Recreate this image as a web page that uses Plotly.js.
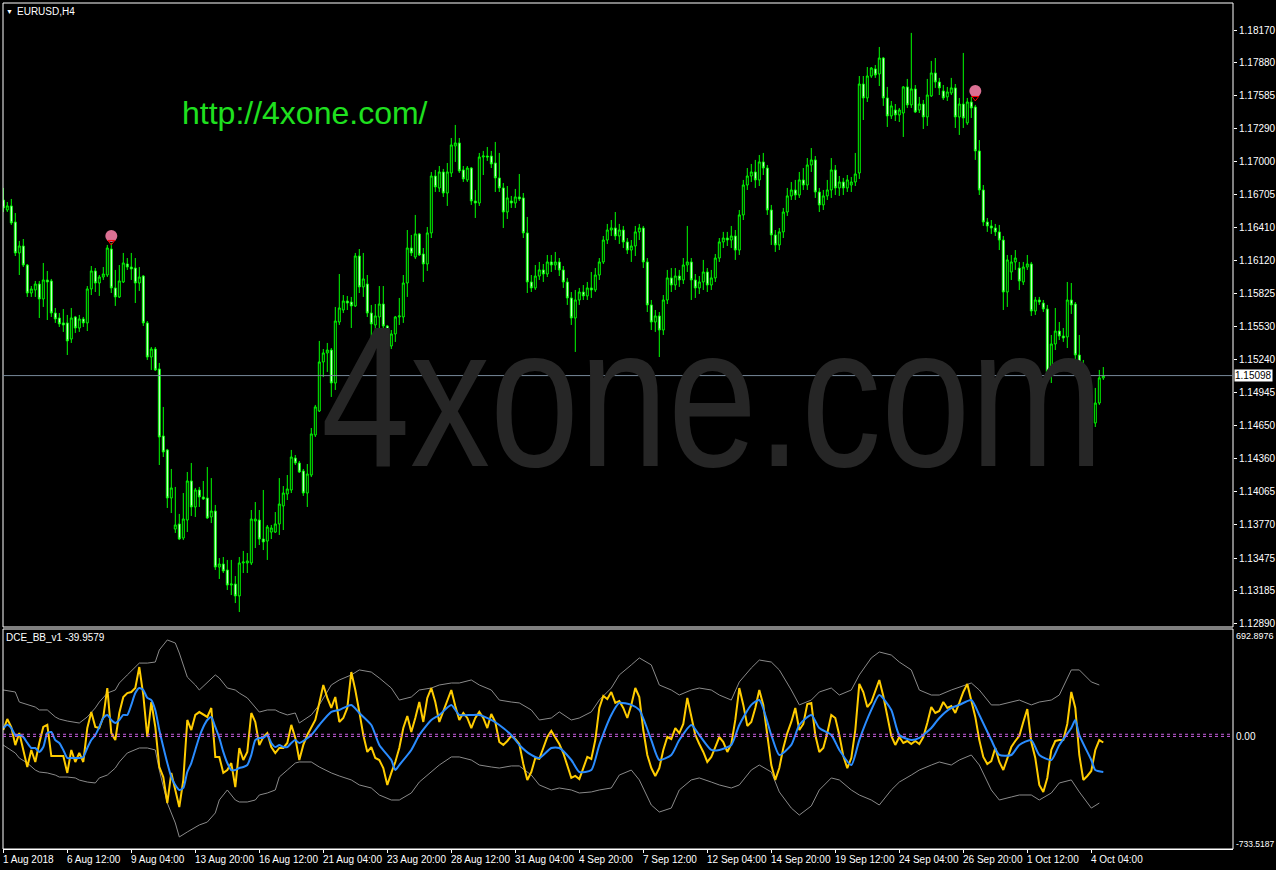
<!DOCTYPE html>
<html><head><meta charset="utf-8">
<script src="https://cdn.plot.ly/plotly-3.0.1.min.js"></script>
<style>html,body{margin:0;padding:0;background:#000;}#chart{width:1276px;height:870px;}</style>
</head><body><div id="chart"></div>
<script>
const symbolTitle = "EURUSD,H4";
const indicatorTitle = "DCE_BB_v1 -39.9579";
const watermarkText = "4xone.com";
const urlText = "http://4xone.com/";
const dateTickBars = [0,16,32,48,64,80,96,112,128,144,160,176,192,208,224,240,256,272];
const dateTickLabels = ["1 Aug 2018","6 Aug 12:00","9 Aug 04:00","13 Aug 20:00","16 Aug 12:00","21 Aug 04:00","23 Aug 20:00","28 Aug 12:00","31 Aug 04:00","4 Sep 20:00","7 Sep 12:00","12 Sep 04:00","14 Sep 20:00","19 Sep 12:00","24 Sep 04:00","26 Sep 20:00","1 Oct 12:00","4 Oct 04:00"];
const priceTicks = [1.18170,1.17880,1.17585,1.17290,1.17000,1.16705,1.16410,1.16120,1.15825,1.15530,1.15240,1.14945,1.14650,1.14360,1.14065,1.13770,1.13475,1.13185,1.12890];
const indicatorMax = 692.8976, indicatorMin = -733.5187;
const lastPrice = 1.15098;

const opens = [1.16659,1.16570,1.16606,1.16463,1.16188,1.16250,1.16081,1.15832,1.15859,1.15912,1.15779,1.15948,1.15939,1.15654,1.15610,1.15566,1.15566,1.15423,1.15619,1.15521,1.15601,1.15566,1.15868,1.16028,1.15921,1.15974,1.15992,1.16223,1.15877,1.15797,1.15930,1.16090,1.16063,1.16054,1.15921,1.15983,1.15566,1.15263,1.15334,1.15157,1.14561,1.14437,1.14010,1.13734,1.13779,1.13654,1.13814,1.14161,1.13930,1.14081,1.14019,1.14010,1.13841,1.13894,1.13396,1.13423,1.13370,1.13236,1.13245,1.13139,1.13432,1.13432,1.13432,1.13805,1.13814,1.13645,1.13627,1.13707,1.13707,1.13779,1.13939,1.14045,1.14081,1.14365,1.14321,1.14250,1.14054,1.14214,1.14570,1.14783,1.15219,1.15299,1.15325,1.15032,1.15574,1.15681,1.15761,1.15752,1.15717,1.16161,1.15886,1.15912,1.15654,1.15548,1.15619,1.15734,1.15539,1.15361,1.15468,1.15619,1.15619,1.15921,1.16232,1.16152,1.16357,1.16179,1.16090,1.16366,1.16872,1.16766,1.16908,1.16721,1.16899,1.17139,1.17166,1.16926,1.16837,1.16943,1.16650,1.16632,1.17041,1.17050,1.17050,1.16988,1.16855,1.16766,1.16552,1.16650,1.16632,1.16686,1.16677,1.16366,
1.15930,1.15877,1.15983,1.16037,1.16001,1.16108,1.16081,1.16108,1.16037,1.15930,1.15788,1.15610,1.15770,1.15841,1.15806,1.15877,1.15859,1.15992,1.16108,1.16303,1.16392,1.16410,1.16339,1.16392,1.16286,1.16214,1.16250,1.16375,1.16410,1.16108,1.15726,1.15574,1.15628,1.15503,1.15770,1.15966,1.15903,1.15983,1.15948,1.16081,1.16108,1.15948,1.15877,1.15930,1.16019,1.15903,1.15966,1.16143,1.16286,1.16321,1.16303,1.16339,1.16214,1.16526,1.16792,1.16872,1.16908,1.16837,1.16997,1.16943,1.16570,1.16348,1.16259,1.16375,1.16552,1.16695,1.16748,1.16703,1.16837,1.16792,1.16970,1.17015,1.16730,1.16615,1.16695,1.16748,1.16926,1.16766,1.16819,1.16766,1.16792,1.16819,1.16899,1.17690,1.17566,1.17761,1.17824,1.17779,1.17921,1.17566,1.17406,1.17459,1.17415,1.17432,1.17664,1.17504,1.17646,1.17459,1.17512,1.17397,1.17584,1.17788,1.17708,1.17628,1.17575,1.17610,1.17655,1.17397,1.17512,1.17344,1.17530,1.17486,1.17095,1.16748,1.16463,1.16428,1.16410,1.16375,1.16303,1.15841,1.16019,1.16108,1.16054,1.15930,1.16063,1.16090,1.15672,1.15770,1.15743,1.15690,1.15121,1.15379,1.15494,1.15450,1.15441,1.15770,1.15734,1.15281,1.15130,1.14765,1.14757,1.14677,1.14854,1.15077];
const highs = [1.16766,1.16641,1.16668,1.16543,1.16295,1.16312,1.16090,1.15894,1.15939,1.15939,1.16099,1.16028,1.15957,1.15699,1.15654,1.15690,1.15637,1.15699,1.15628,1.15637,1.15619,1.15894,1.16072,1.16054,1.15992,1.16063,1.16259,1.16277,1.16037,1.16081,1.16188,1.16143,1.16188,1.16143,1.16063,1.15992,1.15583,1.15352,1.15352,1.15210,1.14819,1.14446,1.14268,1.14108,1.13868,1.14054,1.14241,1.14321,1.14099,1.14108,1.14161,1.14285,1.14187,1.13948,1.13476,1.13485,1.13459,1.13459,1.13316,1.13485,1.13539,1.13521,1.13903,1.13974,1.13903,1.14081,1.13770,1.13770,1.13885,1.14187,1.14116,1.14214,1.14437,1.14392,1.14339,1.14268,1.14312,1.14632,1.14837,1.15406,1.15334,1.15388,1.15343,1.15708,1.16001,1.15814,1.15806,1.15797,1.16188,1.16223,1.16188,1.15992,1.15726,1.15734,1.15894,1.15894,1.15548,1.15503,1.15628,1.15788,1.15992,1.16392,1.16348,1.16526,1.16366,1.16232,1.16419,1.16908,1.16926,1.16961,1.16935,1.16988,1.17210,1.17326,1.17210,1.16961,1.16961,1.16952,1.16748,1.17077,1.17095,1.17130,1.17095,1.17175,1.17077,1.16810,1.16783,1.16695,1.16757,1.16890,1.16721,1.16508,
1.15992,1.16081,1.16108,1.16090,1.16170,1.16170,1.16197,1.16143,1.16072,1.15966,1.15841,1.15859,1.15877,1.15903,1.15930,1.16019,1.16054,1.16143,1.16339,1.16446,1.16481,1.16552,1.16446,1.16428,1.16321,1.16303,1.16428,1.16446,1.16428,1.16143,1.15770,1.15681,1.15663,1.15814,1.16037,1.16054,1.16054,1.16037,1.16143,1.16428,1.16143,1.16001,1.15983,1.16126,1.16054,1.16037,1.16179,1.16321,1.16375,1.16375,1.16428,1.16392,1.16570,1.16837,1.16943,1.16979,1.17015,1.17059,1.17077,1.16970,1.16615,1.16392,1.16410,1.16588,1.16766,1.16819,1.16837,1.16908,1.16943,1.17032,1.17121,1.17050,1.16766,1.16748,1.16837,1.17032,1.16970,1.16872,1.16855,1.16881,1.16863,1.17077,1.17761,1.17761,1.17841,1.17841,1.17859,1.18019,1.17930,1.17664,1.17539,1.17512,1.17477,1.17672,1.17735,1.18144,1.17681,1.17575,1.17548,1.17735,1.17895,1.17921,1.17744,1.17681,1.17664,1.17744,1.17690,1.17566,1.17966,1.17566,1.17575,1.17504,1.17192,1.16792,1.16499,1.16481,1.16446,1.16437,1.16339,1.16170,1.16170,1.16214,1.16108,1.16108,1.16170,1.16108,1.15797,1.15797,1.15770,1.15726,1.15459,1.15699,1.15574,1.15521,1.15930,1.15921,1.15752,1.15459,1.15237,1.14925,1.14988,1.14988,1.15148,1.15174];
const lows = [1.16552,1.16552,1.16437,1.16161,1.15992,1.16063,1.15797,1.15797,1.15797,1.15610,1.15708,1.15592,1.15619,1.15566,1.15530,1.15486,1.15281,1.15388,1.15477,1.15486,1.15530,1.15494,1.15814,1.15841,1.15806,1.15948,1.15974,1.15832,1.15717,1.15788,1.15921,1.16037,1.15948,1.15743,1.15850,1.15539,1.15237,1.15148,1.15139,1.14303,1.14374,1.13921,1.13876,1.13699,1.13636,1.13636,1.13707,1.13850,1.13841,1.13930,1.13992,1.13823,1.13787,1.13370,1.13290,1.13343,1.13192,1.13147,1.13076,1.12996,1.13343,1.13343,1.13414,1.13565,1.13592,1.13547,1.13459,1.13645,1.13699,1.13681,1.13725,1.13992,1.14054,1.14303,1.14232,1.14028,1.13930,1.14196,1.14552,1.14774,1.15085,1.15130,1.14908,1.14970,1.15548,1.15654,1.15681,1.15521,1.15708,1.15832,1.15797,1.15619,1.15406,1.15477,1.15486,1.15486,1.15281,1.15334,1.15397,1.15548,1.15566,1.15797,1.16161,1.16134,1.16161,1.15930,1.16028,1.16321,1.16730,1.16730,1.16686,1.16606,1.16863,1.16997,1.16899,1.16819,1.16819,1.16615,1.16499,1.16606,1.16881,1.17006,1.16943,1.16730,1.16730,1.16410,1.16490,1.16588,1.16588,1.16650,1.16321,1.15832,
1.15841,1.15859,1.15948,1.15930,1.15974,1.16019,1.16037,1.15983,1.15877,1.15726,1.15548,1.15308,1.15726,1.15770,1.15770,1.15788,1.15841,1.15948,1.16090,1.16268,1.16339,1.16303,1.16268,1.16232,1.16179,1.16108,1.16161,1.16303,1.16054,1.15663,1.15503,1.15486,1.15263,1.15459,1.15734,1.15841,1.15859,1.15886,1.15912,1.16019,1.15770,1.15788,1.15823,1.15859,1.15841,1.15859,1.15930,1.16108,1.16232,1.16250,1.16232,1.16126,1.16170,1.16481,1.16748,1.16819,1.16766,1.16783,1.16881,1.16526,1.16259,1.16197,1.16214,1.16321,1.16517,1.16659,1.16659,1.16677,1.16748,1.16748,1.16908,1.16677,1.16552,1.16570,1.16659,1.16677,1.16703,1.16695,1.16703,1.16730,1.16730,1.16783,1.16846,1.17370,1.17530,1.17744,1.17744,1.17672,1.17495,1.17308,1.17379,1.17361,1.17352,1.17219,1.17477,1.17477,1.17432,1.17432,1.17290,1.17317,1.17575,1.17655,1.17592,1.17548,1.17539,1.17592,1.17299,1.17237,1.17299,1.17326,1.17388,1.17015,1.16703,1.16428,1.16375,1.16357,1.16339,1.16214,1.15681,1.15708,1.15948,1.16037,1.15859,1.15903,1.16037,1.15628,1.15637,1.15726,1.15663,1.15059,1.15032,1.15325,1.15414,1.15397,1.15343,1.15646,1.15237,1.15077,1.14632,1.14659,1.14614,1.14641,1.14837,1.15059];
const closes = [1.16588,1.16606,1.16455,1.16188,1.16250,1.16081,1.15832,1.15868,1.15912,1.15779,1.15948,1.15930,1.15654,1.15601,1.15557,1.15548,1.15406,1.15610,1.15521,1.15601,1.15566,1.15868,1.16028,1.15921,1.15974,1.16001,1.16232,1.15877,1.15797,1.15939,1.16099,1.16063,1.16046,1.15921,1.15974,1.15566,1.15263,1.15334,1.15148,1.14552,1.14419,1.14010,1.14099,1.13770,1.13645,1.13823,1.14161,1.13930,1.14081,1.14019,1.14001,1.13832,1.13894,1.13396,1.13423,1.13361,1.13236,1.13245,1.13139,1.13432,1.13441,1.13450,1.13823,1.13823,1.13645,1.13619,1.13752,1.13743,1.13779,1.13956,1.14054,1.14090,1.14374,1.14321,1.14241,1.14054,1.14223,1.14579,1.14819,1.15219,1.15299,1.15325,1.15032,1.15583,1.15699,1.15761,1.15743,1.15717,1.16161,1.15886,1.15957,1.15654,1.15557,1.15628,1.15734,1.15539,1.15388,1.15468,1.15619,1.15628,1.15921,1.16232,1.16188,1.16357,1.16170,1.16090,1.16366,1.16872,1.16775,1.16908,1.16721,1.16908,1.17148,1.17166,1.16917,1.16846,1.16943,1.16650,1.16632,1.17041,1.17050,1.17041,1.16979,1.16855,1.16766,1.16552,1.16677,1.16632,1.16686,1.16668,1.16366,1.15930,
1.15877,1.15983,1.16037,1.16001,1.16108,1.16081,1.16108,1.16037,1.15930,1.15788,1.15610,1.15770,1.15841,1.15806,1.15877,1.15859,1.15992,1.16108,1.16303,1.16392,1.16410,1.16339,1.16392,1.16286,1.16214,1.16250,1.16375,1.16410,1.16108,1.15726,1.15574,1.15628,1.15503,1.15770,1.15966,1.15903,1.15983,1.15948,1.16081,1.16108,1.15948,1.15877,1.15930,1.16019,1.15903,1.15966,1.16143,1.16286,1.16321,1.16303,1.16339,1.16214,1.16526,1.16792,1.16872,1.16908,1.16837,1.16997,1.16943,1.16570,1.16348,1.16259,1.16375,1.16552,1.16695,1.16748,1.16703,1.16837,1.16792,1.16970,1.17015,1.16730,1.16615,1.16695,1.16748,1.16926,1.16766,1.16819,1.16766,1.16837,1.16819,1.16890,1.17690,1.17566,1.17761,1.17832,1.17770,1.17921,1.17566,1.17406,1.17495,1.17415,1.17459,1.17664,1.17504,1.17646,1.17441,1.17512,1.17397,1.17592,1.17788,1.17708,1.17655,1.17566,1.17619,1.17655,1.17397,1.17512,1.17388,1.17530,1.17477,1.17095,1.16748,1.16463,1.16428,1.16410,1.16375,1.16303,1.15841,1.16126,1.16108,1.16143,1.15939,1.16063,1.16090,1.15672,1.15770,1.15752,1.15690,1.15130,1.15379,1.15494,1.15450,1.15432,1.15770,1.15726,1.15281,1.15130,1.14765,1.14757,1.14677,1.14854,1.15077,1.15098];

const signalBars = [27, 243];
const signalPrices = [1.16339, 1.17628];
const signalMarkPrices = [1.16286, 1.17566];

const dceValues = [42,114,62,-57,22,-89,-201,-89,-168,-43,62,76,-129,-129,-129,-129,-240,-89,-168,-109,-168,55,160,62,55,128,318,22,-24,154,259,285,292,318,456,272,-4,226,62,-201,-267,-438,-240,-352,-464,-287,108,42,141,160,141,128,187,-135,-135,-240,-221,-175,-333,-76,-155,-102,154,95,-57,-4,22,-70,-109,-76,-76,-43,76,-10,-155,
-56,9,55,108,220,338,253,187,259,95,121,187,423,305,161,9,-102,-70,-142,-155,-208,-319,-240,-168,-76,55,134,29,121,226,95,253,318,226,95,161,226,305,200,108,154,121,55,121,161,121,55,147,95,-37,-56,-30,3,-17,-50,-181,-286,-234,-142,-148,-76,-4,36,-10,-50,-109,-194,-273,-260,-280,-208,-135,-148,-24,187,266,246,292,220,233,187,121,207,318,259,42,-122,-208,-260,-208,-89,-4,-17,55,22,82,253,141,9,-50,-102,-168,-135,-70,-4,-37,-102,-50,108,318,207,69,95,187,305,207,-10,-188,-286,-208,-76,22,95,187,42,82,213,220,9,-102,-76,22,141,121,9,-129,-208,-142,42,345,292,193,226,292,371,266,134,3,-56,-4,-43,-30,-50,-30,-50,-4,88,193,154,167,226,187,200,154,220,292,345,226,128,-24,-135,-181,-162,-76,-168,-221,-142,-70,-30,3,95,180,-37,-142,-319,-365,-273,-89,-30,-24,-24,82,292,187,-122,-286,-260,-227,-89,-24,-39.9579];
const dceSignalBars = [0,1,2,3,4,5,6,7,8,9,10,11,12,13,14,15,16,17,18,19,20,21,22,23,24,25,26,27,28,29,30,31,32,33,34,35,36,37,38,39,40,41,42,43,44,45,46,47,48,49,50,51,52,53,54,55,56,57,58,59,60,61,62,63,64,65,66,67,68,69,70,71,72,73,74,
77,79,82,84,87,89,92,94,97,98,99,102,104,107,109,112,114,117,119,122,124,127,129,132,134,137,139,142,144,147,149,152,154,157,159,162,164,167,169,172,174,177,179,182,184,187,189,192,194,197,199,202,204,207,209,212,214,217,219,222,224,227,229,232,234,237,239,242,244,247,249,252,254,257,259,262,264,267,268,269,272,273,275];
const dceSignal = [55,76,55,9,9,-4,-43,-76,-76,-102,-70,22,29,-24,-43,-89,-142,-142,-142,-142,-135,-76,-24,9,62,121,141,108,88,108,141,141,207,285,318,305,253,239,174,42,-70,-175,-267,-319,-352,-339,-234,-175,-89,-4,62,108,128,62,-10,-102,-175,-221,-221,-208,-201,-188,-122,-24,-10,-10,9,-43,-70,-57,-70,-70,-43,-24,-43,
9,75,161,174,207,154,75,-56,-155,-221,-188,-89,9,108,141,207,141,141,141,108,75,9,-56,-122,-142,-76,-76,-155,-234,-221,-56,141,220,207,174,-24,-155,-122,-24,75,9,-89,-89,-56,75,207,239,9,-122,-56,75,141,55,9,-89,-188,-24,174,272,174,9,-24,-10,55,121,187,207,239,141,-24,-122,-122,-56,-24,-122,-155,-56,55,108,9,-155,-221,-234];
const bandBars = [0,3,4,6,8,9,11,13,14,16,18,19,21,23,24,26,28,29,31,33,34,36,38,39,41,43,44,46,48,49,51,53,54,56,58,59,61,63,64,66,68,69,71,73,74,
77,79,82,84,87,89,92,94,97,99,102,104,107,109,112,114,117,119,122,124,127,129,132,134,137,139,142,144,147,149,152,154,157,159,162,164,167,169,172,174,177,179,182,184,187,189,192,194,197,199,202,204,207,209,212,214,217,219,222,224,227,229,232,234,237,239,242,244,247,249,252,254,257,259,262,264,267,269,272,274];
const upperBand = [305,292,226,207,193,174,174,128,114,101,95,88,128,187,226,285,305,351,404,456,482,482,489,568,634,614,548,390,338,305,358,404,384,318,305,285,253,193,160,174,174,160,141,154,88,
141,207,338,371,404,437,423,384,318,239,259,305,318,338,351,351,371,338,305,239,226,220,174,108,121,161,108,121,161,239,318,404,470,516,470,338,305,272,305,318,305,272,239,358,450,502,489,437,305,207,239,292,318,272,305,404,516,555,535,489,437,305,272,272,305,325,351,305,207,207,226,239,207,226,239,272,437,437,358,338];
const lowerBand = [-57,-109,-142,-175,-221,-234,-240,-254,-267,-267,-273,-287,-300,-306,-273,-254,-208,-168,-109,-89,-76,-76,-89,-221,-438,-569,-661,-628,-595,-582,-563,-503,-418,-352,-418,-431,-431,-418,-385,-372,-352,-267,-221,-175,-168,
-168,-201,-240,-260,-286,-319,-339,-385,-418,-418,-372,-300,-234,-188,-135,-135,-155,-188,-201,-208,-194,-194,-254,-319,-352,-339,-352,-372,-365,-352,-339,-254,-221,-286,-451,-497,-471,-352,-286,-273,-300,-319,-339,-319,-221,-188,-234,-365,-471,-517,-457,-352,-273,-286,-352,-385,-418,-451,-352,-300,-254,-221,-188,-168,-188,-155,-122,-188,-352,-418,-398,-385,-385,-418,-372,-306,-286,-365,-471,-438];
const levelValues = [0, 14];

const barIndex = opens.map((_, i) => i);
const dceIndex = dceValues.map((_, i) => i);

const FONT = "Liberation Sans, Arial, sans-serif";
const mainBottom = (849 - 627) / 846, subTop = (849 - 629) / 846;

const traces = [
  {type:'candlestick', x:barIndex, open:opens, high:highs, low:lows, close:closes, xaxis:'x', yaxis:'y',
   increasing:{line:{color:'#00ff00', width:1}, fillcolor:'#000000'},
   decreasing:{line:{color:'#00ff00', width:1}, fillcolor:'#ffffff'},
   whiskerwidth:0, hoverinfo:'skip', showlegend:false},
  {type:'scatter', mode:'markers', x:signalBars, y:signalPrices, xaxis:'x', yaxis:'y',
   marker:{color:'#db7093', size:12}, hoverinfo:'skip', showlegend:false},
  {type:'scatter', mode:'markers', x:signalBars, y:signalMarkPrices, xaxis:'x', yaxis:'y',
   marker:{color:'#ff0000', size:6, symbol:'triangle-down-open', line:{width:1, color:'#ff0000'}}, hoverinfo:'skip', showlegend:false},
  {type:'scatter', mode:'lines', x:bandBars, y:upperBand, xaxis:'x', yaxis:'y2', line:{color:'#8a8a8a', width:1}, hoverinfo:'skip', showlegend:false},
  {type:'scatter', mode:'lines', x:bandBars, y:lowerBand, xaxis:'x', yaxis:'y2', line:{color:'#8a8a8a', width:1}, hoverinfo:'skip', showlegend:false},
  {type:'scatter', mode:'lines', x:dceIndex, y:dceValues, xaxis:'x', yaxis:'y2', line:{color:'#ffcc00', width:2}, hoverinfo:'skip', showlegend:false},
  {type:'scatter', mode:'lines', x:dceSignalBars, y:dceSignal, xaxis:'x', yaxis:'y2', line:{color:'#2a8cff', width:2, shape:'spline', smoothing:0.6}, hoverinfo:'skip', showlegend:false}
];

const shapes = [
  {type:'rect', xref:'paper', yref:'paper', x0:0, x1:1, y0:mainBottom, y1:1, line:{color:'#ffffff', width:1}, fillcolor:'rgba(0,0,0,0)'},
  {type:'rect', xref:'paper', yref:'paper', x0:0, x1:1, y0:0, y1:subTop, line:{color:'#ffffff', width:1}, fillcolor:'rgba(0,0,0,0)'},
  {type:'line', xref:'paper', yref:'y', x0:0, x1:1, y0:lastPrice, y1:lastPrice, line:{color:'#778899', width:1}}
];
levelValues.forEach(v => shapes.push({type:'line', xref:'paper', yref:'y2', x0:0, x1:1, y0:v, y1:v, line:{color:'#c85fe0', width:1, dash:'3px,3px'}}));

const annotations = [
  {xref:'paper', yref:'paper', x:0, y:1, xanchor:'left', yanchor:'top', xshift:1, yshift:-3, text:'\u25BC', showarrow:false, font:{family:FONT, size:7, color:'#ffffff'}},
  {xref:'paper', yref:'paper', x:0, y:1, xanchor:'left', yanchor:'top', xshift:12, yshift:-1, text:symbolTitle, showarrow:false, font:{family:FONT, size:10, color:'#ffffff'}},
  {xref:'paper', yref:'paper', x:0, y:subTop, xanchor:'left', yanchor:'top', xshift:1, yshift:-1, text:indicatorTitle, showarrow:false, font:{family:FONT, size:10, color:'#ffffff'}},
  {xref:'paper', yref:'paper', x:0.5768, y:0.5346, xanchor:'center', yanchor:'middle', text:watermarkText, showarrow:false, font:{family:FONT, size:160, color:'#262626'}},
  {xref:'paper', yref:'paper', x:0.1439, y:0.870, xanchor:'left', yanchor:'middle', text:urlText, showarrow:false, font:{family:FONT, size:32, color:'#1fe01f'}},
  {xref:'paper', yref:'y', x:1, y:lastPrice, xanchor:'left', yanchor:'middle', xshift:1, text:lastPrice.toFixed(5), showarrow:false, bgcolor:'#ffffff', borderpad:0, font:{family:FONT, size:10, color:'#000000'}},
  {xref:'paper', yref:'paper', x:1, y:subTop, xanchor:'left', yanchor:'top', xshift:1, yshift:0, text:indicatorMax.toFixed(4), showarrow:false, font:{family:FONT, size:9, color:'#ffffff'}},
  {xref:'paper', yref:'paper', x:1, y:0, xanchor:'left', yanchor:'bottom', xshift:1, yshift:-2, text:indicatorMin.toFixed(4), showarrow:false, font:{family:FONT, size:8.5, color:'#ffffff'}},
  {xref:'paper', yref:'y2', x:1, y:0, xanchor:'left', yanchor:'middle', xshift:1, text:'0.00', showarrow:false, font:{family:FONT, size:10, color:'#ffffff'}}
];
const WATERMARK_INDEX = 3;
dateTickBars.forEach((b, i) => annotations.push({xref:'x', yref:'paper', x:b, y:0, xanchor:'left', yanchor:'top', xshift:-2, yshift:-3, text:dateTickLabels[i], showarrow:false, font:{family:FONT, size:10, color:'#ffffff'}}));

const layout = {
  width:1276, height:870, paper_bgcolor:'#000000', plot_bgcolor:'#000000',
  margin:{l:3, r:43, t:3, b:21}, showlegend:false, hovermode:false,
  xaxis:{range:[-0.075, 307.425], anchor:'y2', showgrid:false, zeroline:false, showline:true, linecolor:'#ffffff',
         ticks:'outside', tickvals:dateTickBars, ticklen:3, tickcolor:'#ffffff', showticklabels:false, rangeslider:{visible:false}},
  yaxis:{domain:[mainBottom, 1], range:[1.12863, 1.18410], side:'right', showgrid:false, zeroline:false,
         tickvals:priceTicks, ticktext:priceTicks.map(v => v.toFixed(5)), ticks:'outside', ticklen:3, tickcolor:'#ffffff',
         tickfont:{family:FONT, size:10, color:'#ffffff'}},
  yaxis2:{domain:[0, subTop], range:[-740, 706], side:'right', showgrid:false, zeroline:false, showticklabels:false, ticks:''},
  shapes:shapes, annotations:annotations
};
Plotly.newPlot('chart', traces, layout, {staticPlot:true, displayModeBar:false}).then(gd => {
  // the reference watermark is drawn vertically stretched; apply the same stretch to the text
  const g = gd.querySelector('.annotation[data-index="' + WATERMARK_INDEX + '"]');
  const t = g && g.querySelector('text');
  if (t) {
    const b = t.getBBox();
    const cy = b.y + b.height / 2, s = 1.25;
    t.setAttribute('transform', 'matrix(1 0 0 ' + s + ' 0 ' + ((1 - s) * cy) + ')');
  }
});
</script></body></html>
